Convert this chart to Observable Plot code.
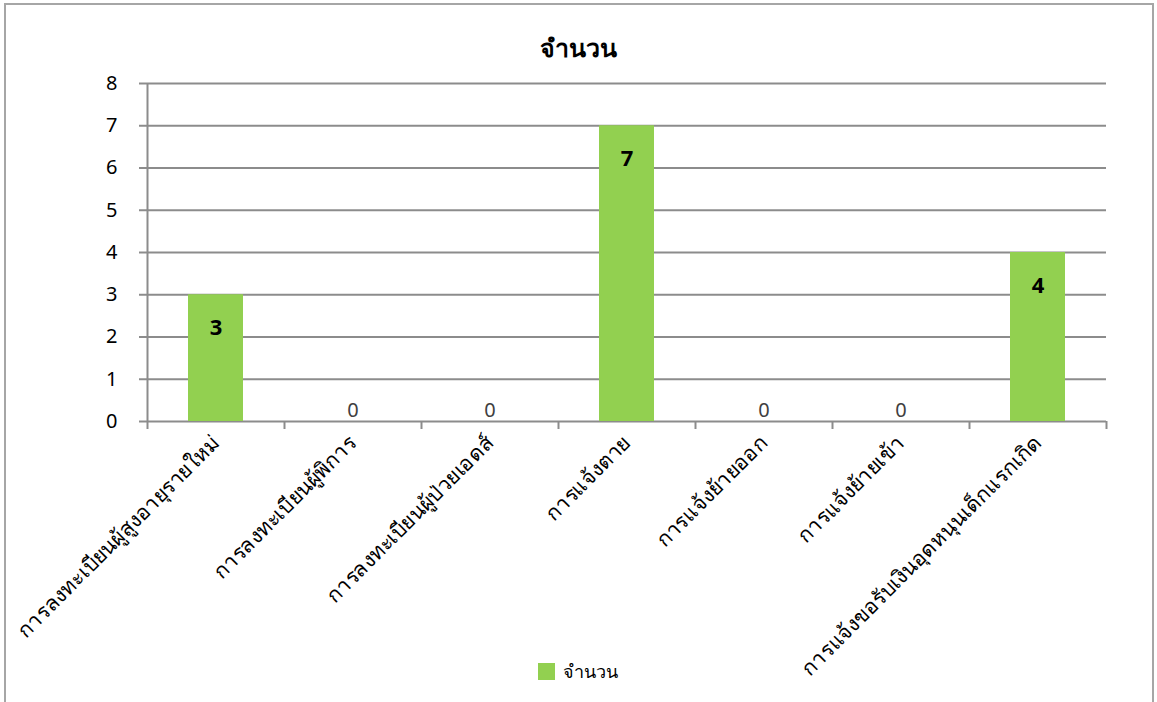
<!DOCTYPE html>
<html><head><meta charset="utf-8">
<script src="https://cdn.jsdelivr.net/npm/d3@7"></script>
<script src="https://cdn.jsdelivr.net/npm/@observablehq/plot@0.6"></script>
<style>
body{margin:0;background:#fff;font-family:"Noto Sans","DejaVu Sans",sans-serif;}
#wrap{position:relative;width:1157px;height:702px;overflow:hidden;}
#border{position:absolute;left:4px;top:3px;width:1150px;height:730px;border:2px solid #a6a6a6;box-sizing:border-box;}
#title{position:absolute;left:0;top:31px;width:1157px;text-align:center;font-weight:bold;font-size:25px;line-height:32px;}
#chart{position:absolute;left:0;top:70px;}
#legend{position:absolute;top:658px;left:538px;display:flex;align-items:center;font-size:18px;line-height:26px;}
#legend .sw{width:17px;height:17px;background:#92d050;margin-right:8px;}
</style></head>
<body>
<div id="wrap">
<div id="border"></div>
<div id="title">จำนวน</div>
<div id="chart"></div>
<div id="legend"><span class="sw"></span><span>จำนวน</span></div>
</div>
<script>
const categories = [
  "การลงทะเบียนผู้สูงอายุรายใหม่",
  "การลงทะเบียนผู้พิการ",
  "การลงทะเบียนผู้ป่วยเอดส์",
  "การแจ้งตาย",
  "การแจ้งย้ายออก",
  "การแจ้งย้ายเข้า",
  "การแจ้งขอรับเงินอุดหนุนเด็กแรกเกิด"
];
const values = [3, 0, 0, 7, 0, 0, 4];
const yTicks = [0, 1, 2, 3, 4, 5, 6, 7, 8];

const data = categories.map((c, i) => ({category: c, value: values[i]}));
const W = 1157, mL = 147, mR = 51;
const step = (W - mL - mR) / categories.length;
const gray = "#8c8c8c";

const chart = Plot.plot({
  width: W, height: 632,
  marginLeft: mL, marginRight: mR, marginTop: 13, marginBottom: 281,
  x: {domain: categories, paddingInner: 0.6, paddingOuter: 0.3, label: null},
  y: {domain: [0, 8], ticks: yTicks, label: null},
  style: {fontFamily: '"Noto Sans","DejaVu Sans",sans-serif', fontSize: "20px", color: "#000", background: "transparent", overflow: "visible"},
  marks: [
    Plot.gridY(yTicks, {stroke: gray, strokeOpacity: 1, strokeWidth: 2}),
    Plot.barY(data, {x: "category", y: "value", fill: "#92d050"}),
    Plot.axisY(yTicks, {tickSize: 8, tickPadding: 22, stroke: gray, strokeWidth: 2, fontSize: 20, label: null}),
    Plot.ruleX([categories[0]], {dx: -step / 2, y1: 8, y2: 0, stroke: gray, strokeWidth: 2}),
    Plot.ruleX(categories, {dx: -step / 2, y1: 0, y2: 0, insetBottom: -8, stroke: gray, strokeWidth: 2}),
    Plot.ruleX([categories[categories.length - 1]], {dx: step / 2, y1: 0, y2: 0, insetBottom: -8, stroke: gray, strokeWidth: 2}),
    Plot.axisX({tickSize: 0, tickRotate: -45, tickPadding: 18, fontSize: 21, label: null}),
    Plot.text(data.filter(d => d.value > 0), {x: "category", y: "value", text: d => String(d.value), dy: 33, fontWeight: "bold", fontSize: 22, fill: "#000"}),
    Plot.text(data.filter(d => d.value === 0), {x: "category", y: "value", text: d => String(d.value), dy: -11, fontSize: 20, fill: "#404040"})
  ]
});
document.getElementById("chart").appendChild(chart);
</script>
</body></html>
